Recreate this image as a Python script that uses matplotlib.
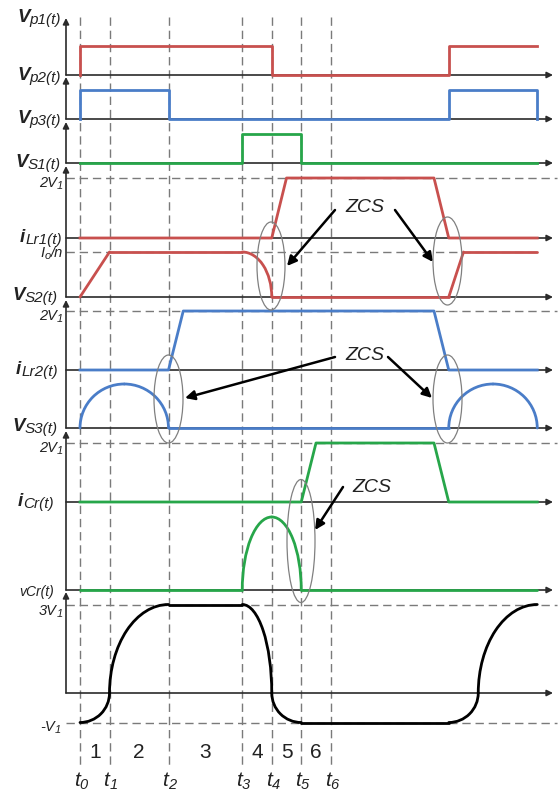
import matplotlib.pyplot as plt
from matplotlib.patches import Arc, Ellipse
from matplotlib.transforms import Affine2D

plt.rcParams['font.family'] = ['Liberation Sans', 'DejaVu Sans']

RED = '#c8504e'
BLUE = '#4a7dc8'
GREEN = '#27a64a'
GRID = '#7a7a7a'
AXC = '#2b2b2b'
TXT = '#222222'
LW = 2.0

# switching instants t0..t6 (time units)
t_names = ['0', '1', '2', '3', '4', '5', '6']
t_inst = [0, 1, 3, 5.5, 6.5, 7.5, 8.5]
interval_names = ['1', '2', '3', '4', '5', '6']

# gate signals (0 / 1)
vp1_t = [0, 0, 6.5, 6.5, 12.5, 12.5, 15.5]
vp1_v = [0, 1, 1, 0, 0, 1, 1]
vp3_t = [0, 0, 3, 3, 12.5, 12.5, 15.5, 15.5]
vp3_v = [0, 1, 1, 0, 0, 1, 1, 0]
vs1_t = [0, 5.5, 5.5, 7.5, 7.5, 15.5]
vs1_v = [0, 0, 1, 1, 0, 0]

# switch voltages (in V1)
vsa_t = [0, 6.5, 7, 12, 12.5, 15.5]
vsa_v = [0, 0, 2, 2, 0, 0]
vsb_t = [0, 3, 3.5, 12, 12.5, 15.5]
vsb_v = [0, 0, 2, 2, 0, 0]
vsc_t = [0, 7.5, 8, 12, 12.5, 15.5]
vsc_v = [0, 0, 2, 2, 0, 0]

# resonant waveforms, tangent at each point: c corner, f flat, s steep
ilr1_t = [0, 1, 5.5, 6.5, 12.5, 13, 15.5]
ilr1_v = [0, 1, 1, 0, 0, 1, 1]
ilr1_k = 'ccfsccc'
ilr2_t = [0, 1.5, 3, 12.5, 14, 15.5]
ilr2_v = [0, 1, 0, 0, 1, 0]
ilr2_k = 'sfssfs'
icr_t = [0, 5.5, 6.5, 7.5, 15.5]
icr_v = [0, 0, 1, 0, 0]
icr_k = 'csfsc'
vcr_t = [0, 1, 3, 5.5, 6.5, 7.5, 12.5, 13.5, 15.5]
vcr_v = [-1, 0, 3, 3, 0, -1, -1, 0, 3]
vcr_k = 'fsffsffsf'

# layout (pixels)
X0, DX = 80, 29.5
AX_X, AX_END, DASH_END = 66, 553, 557
rows = {
    'vp1': (75, 29), 'vp3': (119, 29), 'vs1': (163, 29),
    'vsa': (238, 30), 'ilr1': (297, 45),
    'vsb': (370, 29.5), 'ilr2': (428, 44),
    'vsc': (502, 29.5), 'icr': (590, 73),
    'vcr': (693, 29.5),
}
v_axes = [(75, 18), (119, 77), (163, 122), (297, 166), (428, 300), (590, 431), (693, 592)]

fig = plt.figure(figsize=(5.6, 7.92), dpi=100)
ax = fig.add_axes([0, 0, 1, 1])
ax.set_xlim(0, 560)
ax.set_ylim(792, 0)
ax.axis('off')
renderer = fig.canvas.get_renderer()


def row_tf(name):
    base, sy = rows[name]
    return Affine2D().scale(DX, -sy).translate(X0, base) + ax.transData


time_tf = Affine2D().scale(DX, 1).translate(X0, 0) + ax.transData


def draw_curve(name, t, v, kinds, color):
    tf = row_tf(name)
    for i in range(len(t) - 1):
        a, b = kinds[i], kinds[i + 1]
        if {a, b} == {'f', 's'}:
            j, k = (i, i + 1) if a == 'f' else (i + 1, i)
            ct, cv = t[j], v[k]
            af = 90 if v[j] > cv else 270
            as_ = 0 if t[k] > ct else 180
            th1, th2 = (as_, af) if (af - as_) % 360 == 90 else (af, as_)
            ax.add_patch(Arc((ct, cv), 2 * abs(t[k] - ct), 2 * abs(v[j] - cv),
                             theta1=th1, theta2=th2, transform=tf, color=color,
                             lw=LW, capstyle='round', zorder=4))
        else:
            ax.plot(t[i:i + 2], v[i:i + 2], color=color, lw=LW,
                    solid_capstyle='round', transform=tf, zorder=4)


def label(x, y, pieces, align='right'):
    # pieces: (text, fontsize, drop in px, bold) sharing one baseline at y
    seq = reversed(pieces) if align == 'right' else pieces
    xc = x
    for s, size, dy, bold in seq:
        t = ax.text(xc, y + dy, s, fontsize=size, style='italic', color=TXT,
                    fontweight='bold' if bold else 'normal', ha=align, va='baseline')
        w = t.get_window_extent(renderer).width
        xc = xc - w if align == 'right' else xc + w


# vertical dashed lines at the switching instants
for ti in t_inst:
    ax.plot([ti, ti], [17, 765], color=GRID, lw=1, ls=(0, (6, 3.5)),
            transform=time_tf, zorder=1)

# horizontal reference levels
for name, lvl, xe in [('vsa', 2, DASH_END), ('ilr1', 1, 540), ('vsb', 2, DASH_END),
                      ('vsc', 2, DASH_END), ('vcr', 3, DASH_END), ('vcr', -1, DASH_END)]:
    ax.plot([(AX_X - X0) / DX, (xe - X0) / DX], [lvl, lvl], color=GRID, lw=1,
            ls=(0, (6, 3.5)), transform=row_tf(name), zorder=1)

# axes with arrows
arr = dict(arrowstyle='-|>', color=AXC, lw=1.2, mutation_scale=9, shrinkA=0, shrinkB=0)
for base, _ in rows.values():
    ax.annotate('', xy=(AX_END, base), xytext=(AX_X, base), arrowprops=arr, zorder=2)
for y0, y1 in v_axes:
    ax.annotate('', xy=(AX_X, y1), xytext=(AX_X, y0), arrowprops=arr, zorder=2)

# waveforms
ax.plot(vp1_t, vp1_v, color=RED, lw=LW, transform=row_tf('vp1'), zorder=4)
ax.plot(vp3_t, vp3_v, color=BLUE, lw=LW, transform=row_tf('vp3'), zorder=4)
ax.plot(vs1_t, vs1_v, color=GREEN, lw=LW, transform=row_tf('vs1'), zorder=4)
ax.plot(vsa_t, vsa_v, color=RED, lw=LW, transform=row_tf('vsa'), zorder=4)
ax.plot(vsb_t, vsb_v, color=BLUE, lw=LW, transform=row_tf('vsb'), zorder=4)
ax.plot(vsc_t, vsc_v, color=GREEN, lw=LW, transform=row_tf('vsc'), zorder=4)
draw_curve('ilr1', ilr1_t, ilr1_v, ilr1_k, RED)
draw_curve('ilr2', ilr2_t, ilr2_v, ilr2_k, BLUE)
draw_curve('icr', icr_t, icr_v, icr_k, GREEN)
draw_curve('vcr', vcr_t, vcr_v, vcr_k, 'black')

# axis labels (x = right edge, y = baseline)
big = [
    ('V', 'p1(t)', 61, 22), ('V', 'p2(t)', 61, 80), ('V', 'p3(t)', 61, 123),
    ('V', 'S1(t)', 61, 167), ('i', 'Lr1(t)', 62, 242), ('V', 'S2(t)', 58, 300),
    ('i', 'Lr2(t)', 58, 374), ('V', 'S3(t)', 58, 431), ('i', 'Cr(t)', 54, 506),
]
for m, s, x, y in big:
    label(x, y, [(m, 13.5, 0, True), (s, 11, 2, False)])
small = [
    ('2V', '1', '', 63, 187), ('I', 'o', '/n', 63, 257), ('2V', '1', '', 63, 320),
    ('2V', '1', '', 63, 452), ('3V', '1', '', 63, 615), ('-V', '1', '', 61, 731),
]
for m, s, tail, x, y in small:
    pieces = [(m, 10.5, 0, False), (s, 8, 2, False)]
    if tail:
        pieces.append((tail, 10.5, 0, False))
    label(x, y, pieces)
ax.text(54, 596, 'vCr(t)', fontsize=10, style='italic', ha='right', va='baseline', color=TXT)

# interval numbers and instant labels
for i, n in enumerate(interval_names):
    ax.text((t_inst[i] + t_inst[i + 1]) / 2, 753, n, fontsize=15, ha='center',
            va='center', transform=time_tf, color=TXT)
for ti, n in zip(t_inst, t_names):
    label(X0 + DX * ti - 6, 786, [('t', 15, 0, False), (n, 10.5, 3, False)], align='left')

# ZCS annotations
zarr = dict(arrowstyle='-|>', color='black', lw=1.8, mutation_scale=14, shrinkA=0, shrinkB=0)
for txt_xy, tails, tips in [
    ((365, 207), [(335, 210), (395, 210)], [(287, 266), (433, 262)]),
    ((365, 355), [(335, 357), (388, 357)], [(185, 398), (432, 398)]),
    ((372, 487), [(343, 487)], [(315, 530)]),
]:
    ax.text(*txt_xy, 'ZCS', fontsize=14, style='italic', ha='center', va='center', color=TXT)
    for tail, tip in zip(tails, tips):
        ax.annotate('', xy=tip, xytext=tail, arrowprops=zarr, zorder=5)

for cx, cy, w, h in [(271, 266, 28, 88), (447.5, 261, 29, 88), (168.5, 399, 29, 88),
                     (447.5, 399, 29, 88), (301, 541, 28, 123)]:
    ax.add_patch(Ellipse((cx, cy), w, h, fill=False, ec='#808080', lw=0.9, zorder=5))

fig.savefig('out.png', dpi=100)
